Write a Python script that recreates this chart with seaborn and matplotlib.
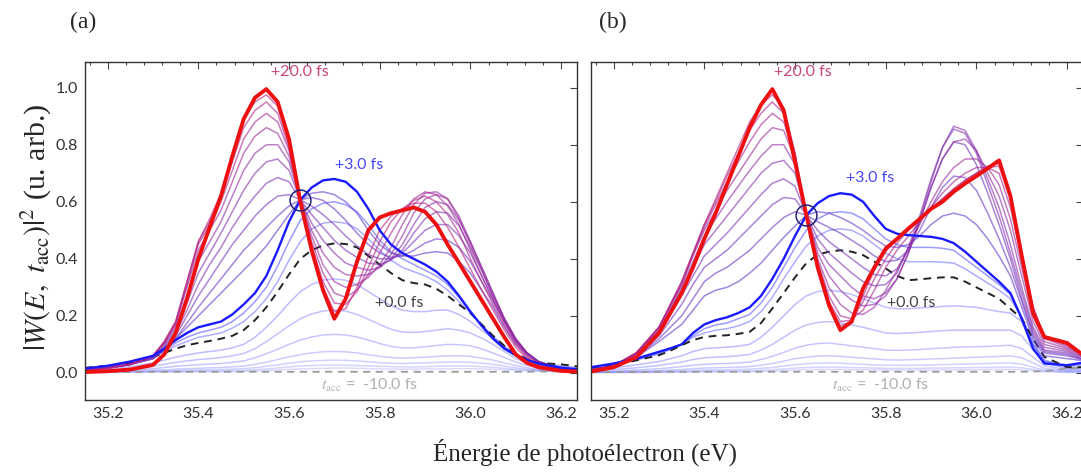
import matplotlib
matplotlib.use('Agg')
import matplotlib.pyplot as plt
import seaborn as sns
import numpy as np
from matplotlib.ticker import MultipleLocator, FormatStrFormatter

sns.set_theme(style='white')
plt.rcParams['font.family'] = ['Liberation Serif', 'DejaVu Serif']
plt.rcParams['mathtext.fontset'] = 'stix'

# photoelectron energy (eV), same sampling for both panels
energy = [35.15, 35.20, 35.25, 35.30, 35.325, 35.35, 35.375, 35.40, 35.425, 35.45, 35.475,
          35.50, 35.525, 35.55, 35.575, 35.60, 35.625, 35.65, 35.675, 35.70, 35.725,
          35.75, 35.775, 35.80, 35.825, 35.85, 35.875, 35.90, 35.925, 35.95, 35.975,
          36.00, 36.025, 36.05, 36.075, 36.10, 36.125, 36.15, 36.20, 36.25]

# ---------------- panel (a) ----------------
red_a = [0.003, 0.006, 0.012, 0.028, 0.065, 0.14, 0.26, 0.40, 0.51, 0.62, 0.76,
         0.89, 0.965, 0.995, 0.95, 0.82, 0.60, 0.43, 0.29, 0.19, 0.26,
         0.39, 0.50, 0.545, 0.56, 0.57, 0.58, 0.565, 0.52, 0.45, 0.385,
         0.32, 0.255, 0.19, 0.125, 0.065, 0.035, 0.02, 0.007, 0.004]
blue3_a = [0.015, 0.025, 0.04, 0.06, 0.085, 0.115, 0.14, 0.16, 0.17, 0.18, 0.205,
           0.24, 0.28, 0.34, 0.43, 0.53, 0.607, 0.65, 0.675, 0.68, 0.67,
           0.635, 0.575, 0.50, 0.45, 0.42, 0.40, 0.38, 0.355, 0.32, 0.27,
           0.215, 0.165, 0.12, 0.085, 0.062, 0.045, 0.033, 0.018, 0.01]
blue2_a = [0.016, 0.025, 0.037, 0.058, 0.08, 0.105, 0.125, 0.14, 0.15, 0.16, 0.18,
           0.21, 0.25, 0.30, 0.375, 0.46, 0.535, 0.575, 0.595, 0.60, 0.59,
           0.565, 0.52, 0.465, 0.425, 0.40, 0.38, 0.36, 0.34, 0.31, 0.265,
           0.215, 0.165, 0.125, 0.09, 0.065, 0.047, 0.034, 0.02, 0.012]
blue1_a = [0.017, 0.025, 0.036, 0.056, 0.075, 0.095, 0.11, 0.125, 0.132, 0.14, 0.157,
           0.18, 0.215, 0.26, 0.32, 0.395, 0.46, 0.505, 0.525, 0.53, 0.525,
           0.505, 0.47, 0.43, 0.395, 0.37, 0.355, 0.34, 0.32, 0.29, 0.25,
           0.21, 0.168, 0.128, 0.093, 0.066, 0.048, 0.035, 0.025, 0.015]
black0_a = [0.018, 0.025, 0.035, 0.055, 0.07, 0.085, 0.097, 0.105, 0.112, 0.12, 0.13,
            0.15, 0.185, 0.23, 0.285, 0.345, 0.40, 0.43, 0.447, 0.454, 0.452,
            0.44, 0.41, 0.38, 0.35, 0.325, 0.315, 0.31, 0.295, 0.27, 0.24,
            0.21, 0.17, 0.13, 0.095, 0.068, 0.048, 0.035, 0.03, 0.02]
gray10_a = [0.003, 0.003, 0.003, 0.004, 0.004, 0.004, 0.004, 0.004, 0.004, 0.004, 0.004,
            0.004, 0.004, 0.004, 0.004, 0.004, 0.004, 0.004, 0.004, 0.004, 0.004,
            0.004, 0.004, 0.004, 0.004, 0.004, 0.004, 0.004, 0.004, 0.004, 0.004,
            0.004, 0.004, 0.004, 0.004, 0.004, 0.004, 0.005, 0.006, 0.007]

# t_acc between -10 and 0 fs (largest first)
light_a = [
    [0.012, 0.016, 0.022, 0.035, 0.045, 0.055, 0.063, 0.07, 0.075, 0.08, 0.088,
     0.10, 0.125, 0.16, 0.20, 0.245, 0.285, 0.31, 0.325, 0.33, 0.325,
     0.31, 0.285, 0.26, 0.235, 0.22, 0.215, 0.215, 0.22, 0.22, 0.205,
     0.18, 0.15, 0.12, 0.09, 0.06, 0.042, 0.03, 0.02, 0.015],
    [0.008, 0.011, 0.015, 0.024, 0.03, 0.037, 0.042, 0.047, 0.05, 0.054, 0.06,
     0.068, 0.085, 0.11, 0.137, 0.165, 0.19, 0.207, 0.217, 0.22, 0.217,
     0.205, 0.188, 0.17, 0.153, 0.143, 0.142, 0.145, 0.15, 0.155, 0.15,
     0.14, 0.122, 0.10, 0.075, 0.05, 0.035, 0.025, 0.015, 0.012],
    [0.006, 0.008, 0.01, 0.015, 0.019, 0.023, 0.026, 0.029, 0.031, 0.033, 0.037,
     0.042, 0.053, 0.067, 0.083, 0.10, 0.115, 0.126, 0.133, 0.135, 0.133,
     0.126, 0.115, 0.103, 0.093, 0.088, 0.088, 0.092, 0.096, 0.10, 0.099,
     0.095, 0.084, 0.07, 0.054, 0.038, 0.026, 0.018, 0.011, 0.009],
    [0.004, 0.005, 0.007, 0.009, 0.011, 0.013, 0.015, 0.016, 0.018, 0.019, 0.021,
     0.024, 0.03, 0.038, 0.047, 0.056, 0.064, 0.07, 0.074, 0.075, 0.074,
     0.07, 0.064, 0.058, 0.054, 0.052, 0.053, 0.055, 0.058, 0.06, 0.06,
     0.058, 0.052, 0.045, 0.035, 0.026, 0.018, 0.013, 0.008, 0.007],
    [0.003, 0.004, 0.005, 0.006, 0.007, 0.008, 0.009, 0.01, 0.011, 0.012, 0.013,
     0.015, 0.018, 0.023, 0.028, 0.034, 0.039, 0.042, 0.044, 0.045, 0.044,
     0.042, 0.039, 0.036, 0.034, 0.033, 0.034, 0.035, 0.037, 0.038, 0.038,
     0.037, 0.034, 0.03, 0.024, 0.018, 0.013, 0.01, 0.006, 0.005],
    [0.002, 0.003, 0.003, 0.004, 0.0045, 0.005, 0.0055, 0.006, 0.0065, 0.007, 0.008,
     0.009, 0.011, 0.014, 0.017, 0.021, 0.024, 0.026, 0.027, 0.028, 0.027,
     0.026, 0.024, 0.023, 0.022, 0.021, 0.021, 0.022, 0.023, 0.024, 0.024,
     0.024, 0.022, 0.02, 0.016, 0.013, 0.01, 0.008, 0.005, 0.004],
    [0.002, 0.002, 0.002, 0.003, 0.003, 0.003, 0.0035, 0.004, 0.004, 0.004, 0.0045,
     0.005, 0.0065, 0.008, 0.01, 0.012, 0.014, 0.015, 0.016, 0.017, 0.017,
     0.016, 0.015, 0.014, 0.013, 0.013, 0.013, 0.014, 0.014, 0.015, 0.015,
     0.015, 0.014, 0.013, 0.011, 0.009, 0.007, 0.006, 0.004, 0.003],
]

# t_acc between +3 and +20 fs (earliest first)
purple_a = [
    [0.012, 0.02, 0.03, 0.05, 0.08, 0.12, 0.16, 0.20, 0.24, 0.28, 0.32,
     0.36, 0.40, 0.445, 0.50, 0.555, 0.607, 0.63, 0.635, 0.625, 0.60,
     0.56, 0.50, 0.45, 0.42, 0.41, 0.41, 0.42, 0.425, 0.42, 0.39,
     0.35, 0.29, 0.23, 0.16, 0.10, 0.065, 0.04, 0.013, 0.006],
    [0.012, 0.02, 0.03, 0.05, 0.08, 0.12, 0.175, 0.23, 0.28, 0.33, 0.38,
     0.43, 0.47, 0.51, 0.55, 0.585, 0.607, 0.615, 0.605, 0.575, 0.535,
     0.49, 0.45, 0.42, 0.405, 0.41, 0.43, 0.455, 0.47, 0.465, 0.44,
     0.39, 0.32, 0.25, 0.18, 0.11, 0.07, 0.04, 0.013, 0.006],
    [0.011, 0.019, 0.03, 0.05, 0.085, 0.13, 0.20, 0.27, 0.33, 0.39, 0.45,
     0.50, 0.55, 0.59, 0.62, 0.625, 0.607, 0.585, 0.555, 0.52, 0.48,
     0.445, 0.415, 0.40, 0.40, 0.42, 0.46, 0.50, 0.52, 0.52, 0.48,
     0.42, 0.34, 0.26, 0.18, 0.11, 0.07, 0.04, 0.013, 0.006],
    [0.011, 0.019, 0.03, 0.055, 0.09, 0.14, 0.22, 0.31, 0.38, 0.44, 0.51,
     0.57, 0.62, 0.665, 0.685, 0.67, 0.607, 0.555, 0.51, 0.465, 0.43,
     0.405, 0.385, 0.38, 0.395, 0.43, 0.49, 0.54, 0.565, 0.56, 0.515,
     0.44, 0.36, 0.27, 0.19, 0.12, 0.07, 0.04, 0.013, 0.006],
    [0.01, 0.018, 0.03, 0.055, 0.095, 0.15, 0.245, 0.35, 0.42, 0.49, 0.565,
     0.64, 0.70, 0.74, 0.75, 0.71, 0.607, 0.525, 0.465, 0.42, 0.385,
     0.37, 0.36, 0.37, 0.40, 0.45, 0.52, 0.58, 0.60, 0.59, 0.535,
     0.46, 0.37, 0.28, 0.19, 0.12, 0.07, 0.04, 0.013, 0.006],
    [0.01, 0.018, 0.03, 0.06, 0.10, 0.16, 0.27, 0.39, 0.46, 0.53, 0.62,
     0.71, 0.77, 0.80, 0.80, 0.74, 0.607, 0.50, 0.42, 0.37, 0.345,
     0.34, 0.345, 0.37, 0.415, 0.48, 0.56, 0.61, 0.625, 0.61, 0.55,
     0.46, 0.37, 0.28, 0.19, 0.12, 0.07, 0.04, 0.013, 0.006],
    [0.01, 0.017, 0.03, 0.06, 0.105, 0.17, 0.30, 0.43, 0.50, 0.57, 0.67,
     0.77, 0.83, 0.86, 0.84, 0.76, 0.607, 0.48, 0.38, 0.32, 0.30,
     0.31, 0.335, 0.38, 0.44, 0.52, 0.59, 0.63, 0.635, 0.61, 0.54,
     0.45, 0.36, 0.27, 0.185, 0.115, 0.065, 0.035, 0.012, 0.006],
    [0.009, 0.017, 0.03, 0.06, 0.105, 0.17, 0.31, 0.45, 0.52, 0.60, 0.71,
     0.82, 0.88, 0.91, 0.88, 0.78, 0.607, 0.46, 0.35, 0.28, 0.265,
     0.29, 0.345, 0.42, 0.49, 0.555, 0.61, 0.635, 0.625, 0.585, 0.52,
     0.43, 0.34, 0.255, 0.175, 0.11, 0.06, 0.035, 0.012, 0.006],
    [0.009, 0.016, 0.03, 0.06, 0.11, 0.18, 0.32, 0.46, 0.53, 0.62, 0.74,
     0.86, 0.92, 0.95, 0.91, 0.79, 0.607, 0.445, 0.32, 0.245, 0.24,
     0.285, 0.37, 0.46, 0.53, 0.575, 0.605, 0.62, 0.60, 0.555, 0.49,
     0.40, 0.32, 0.24, 0.165, 0.10, 0.055, 0.03, 0.01, 0.005],
    [0.008, 0.015, 0.03, 0.06, 0.11, 0.18, 0.32, 0.46, 0.54, 0.63, 0.76,
     0.89, 0.95, 0.975, 0.935, 0.80, 0.607, 0.435, 0.30, 0.215, 0.225,
     0.30, 0.41, 0.50, 0.55, 0.575, 0.595, 0.595, 0.565, 0.51, 0.44,
     0.365, 0.29, 0.22, 0.15, 0.09, 0.05, 0.028, 0.01, 0.005],
]

# ---------------- panel (b) ----------------
red_b = [0.005, 0.02, 0.055, 0.14, 0.21, 0.28, 0.37, 0.47, 0.56, 0.66, 0.76,
         0.86, 0.94, 0.995, 0.92, 0.74, 0.553, 0.37, 0.237, 0.15, 0.18,
         0.296, 0.37, 0.436, 0.47, 0.506, 0.54, 0.575, 0.60, 0.635, 0.664,
         0.69, 0.717, 0.745, 0.62, 0.41, 0.21, 0.126, 0.105, 0.045]
blue3_b = [0.02, 0.033, 0.05, 0.074, 0.086, 0.10, 0.14, 0.17, 0.185, 0.195, 0.21,
           0.23, 0.27, 0.33, 0.40, 0.48, 0.553, 0.595, 0.62, 0.63, 0.625,
           0.60, 0.55, 0.505, 0.488, 0.483, 0.48, 0.477, 0.47, 0.455, 0.425,
           0.39, 0.355, 0.32, 0.28, 0.19, 0.085, 0.033, 0.027, 0.04]
blue2_b = [0.019, 0.03, 0.047, 0.07, 0.085, 0.10, 0.13, 0.155, 0.168, 0.175, 0.19,
           0.205, 0.245, 0.30, 0.37, 0.44, 0.50, 0.54, 0.56, 0.565, 0.56,
           0.54, 0.505, 0.47, 0.45, 0.44, 0.44, 0.44, 0.437, 0.43, 0.40,
           0.37, 0.34, 0.31, 0.275, 0.195, 0.10, 0.04, 0.025, 0.035]
blue1_b = [0.018, 0.028, 0.045, 0.066, 0.082, 0.10, 0.125, 0.14, 0.15, 0.155, 0.165,
           0.18, 0.215, 0.265, 0.33, 0.39, 0.445, 0.48, 0.50, 0.505, 0.50,
           0.48, 0.45, 0.42, 0.40, 0.39, 0.39, 0.39, 0.388, 0.385, 0.365,
           0.34, 0.315, 0.29, 0.26, 0.195, 0.11, 0.045, 0.022, 0.03]
black0_b = [0.018, 0.027, 0.044, 0.062, 0.078, 0.097, 0.115, 0.126, 0.13, 0.132, 0.137,
            0.144, 0.175, 0.226, 0.28, 0.335, 0.385, 0.415, 0.425, 0.43, 0.425,
            0.413, 0.39, 0.366, 0.34, 0.325, 0.328, 0.332, 0.335, 0.335, 0.32,
            0.30, 0.28, 0.26, 0.225, 0.19, 0.12, 0.056, 0.02, 0.02]
gray10_b = [0.003, 0.003, 0.003, 0.004, 0.004, 0.004, 0.004, 0.004, 0.004, 0.004, 0.004,
            0.004, 0.004, 0.004, 0.004, 0.004, 0.004, 0.004, 0.004, 0.004, 0.004,
            0.004, 0.004, 0.004, 0.004, 0.004, 0.004, 0.004, 0.004, 0.004, 0.004,
            0.004, 0.004, 0.004, 0.004, 0.004, 0.005, 0.006, 0.015, 0.02]

light_b = [
    [0.012, 0.018, 0.028, 0.04, 0.05, 0.06, 0.075, 0.085, 0.088, 0.09, 0.094,
     0.10, 0.125, 0.16, 0.20, 0.24, 0.27, 0.285, 0.29, 0.285, 0.275,
     0.26, 0.245, 0.23, 0.225, 0.225, 0.228, 0.23, 0.233, 0.235, 0.233,
     0.23, 0.222, 0.215, 0.21, 0.18, 0.10, 0.04, 0.018, 0.02],
    [0.008, 0.012, 0.018, 0.026, 0.032, 0.038, 0.047, 0.053, 0.055, 0.057, 0.06,
     0.065, 0.08, 0.10, 0.125, 0.15, 0.168, 0.177, 0.18, 0.175, 0.168,
     0.16, 0.15, 0.14, 0.138, 0.14, 0.142, 0.145, 0.148, 0.15, 0.15,
     0.15, 0.15, 0.15, 0.15, 0.13, 0.08, 0.035, 0.015, 0.015],
    [0.005, 0.007, 0.01, 0.015, 0.018, 0.022, 0.027, 0.03, 0.032, 0.033, 0.035,
     0.038, 0.047, 0.058, 0.072, 0.087, 0.097, 0.103, 0.105, 0.10, 0.095,
     0.09, 0.085, 0.08, 0.079, 0.08, 0.082, 0.085, 0.087, 0.09, 0.091,
     0.092, 0.093, 0.095, 0.097, 0.085, 0.055, 0.025, 0.011, 0.011],
    [0.003, 0.004, 0.006, 0.008, 0.01, 0.012, 0.015, 0.017, 0.018, 0.019, 0.02,
     0.022, 0.027, 0.033, 0.041, 0.05, 0.055, 0.059, 0.06, 0.058, 0.055,
     0.052, 0.049, 0.046, 0.045, 0.046, 0.047, 0.049, 0.05, 0.052, 0.053,
     0.055, 0.056, 0.058, 0.06, 0.053, 0.035, 0.016, 0.008, 0.008],
    [0.002, 0.003, 0.004, 0.005, 0.006, 0.007, 0.009, 0.01, 0.0105, 0.011, 0.012,
     0.013, 0.016, 0.019, 0.024, 0.029, 0.032, 0.034, 0.035, 0.034, 0.032,
     0.03, 0.028, 0.027, 0.027, 0.027, 0.027, 0.028, 0.029, 0.03, 0.031,
     0.032, 0.033, 0.034, 0.035, 0.031, 0.02, 0.01, 0.005, 0.005],
    [0.001, 0.002, 0.002, 0.003, 0.0035, 0.004, 0.005, 0.006, 0.006, 0.006, 0.0065,
     0.007, 0.009, 0.011, 0.014, 0.017, 0.019, 0.02, 0.02, 0.02, 0.019,
     0.018, 0.017, 0.016, 0.016, 0.016, 0.016, 0.017, 0.017, 0.018, 0.018,
     0.019, 0.019, 0.02, 0.02, 0.018, 0.012, 0.006, 0.003, 0.003],
    [0.001, 0.001, 0.001, 0.002, 0.002, 0.002, 0.0025, 0.003, 0.0035, 0.004, 0.004,
     0.004, 0.005, 0.006, 0.008, 0.01, 0.011, 0.012, 0.012, 0.012, 0.0115,
     0.011, 0.0105, 0.01, 0.01, 0.01, 0.01, 0.01, 0.0105, 0.011, 0.011,
     0.011, 0.0115, 0.012, 0.012, 0.011, 0.007, 0.004, 0.002, 0.002],
]

purple_b = [
    [0.013, 0.023, 0.055, 0.11, 0.14, 0.17, 0.22, 0.27, 0.29, 0.30, 0.32,
     0.35, 0.385, 0.43, 0.475, 0.515, 0.553, 0.565, 0.56, 0.545, 0.525,
     0.50, 0.47, 0.445, 0.44, 0.45, 0.48, 0.52, 0.55, 0.56, 0.55,
     0.52, 0.47, 0.41, 0.34, 0.23, 0.12, 0.06, 0.05, 0.04],
    [0.012, 0.023, 0.055, 0.12, 0.16, 0.20, 0.26, 0.32, 0.35, 0.37, 0.40,
     0.43, 0.47, 0.51, 0.545, 0.565, 0.553, 0.53, 0.51, 0.49, 0.465,
     0.44, 0.41, 0.39, 0.395, 0.43, 0.50, 0.58, 0.65, 0.69, 0.685,
     0.64, 0.56, 0.47, 0.37, 0.25, 0.13, 0.07, 0.06, 0.04],
    [0.012, 0.024, 0.06, 0.13, 0.185, 0.24, 0.31, 0.37, 0.40, 0.43, 0.47,
     0.51, 0.55, 0.59, 0.615, 0.61, 0.553, 0.50, 0.46, 0.43, 0.40,
     0.37, 0.345, 0.34, 0.365, 0.43, 0.53, 0.65, 0.75, 0.81, 0.80,
     0.73, 0.63, 0.52, 0.40, 0.26, 0.14, 0.075, 0.065, 0.04],
    [0.011, 0.024, 0.06, 0.14, 0.205, 0.27, 0.34, 0.41, 0.45, 0.49, 0.535,
     0.58, 0.625, 0.665, 0.68, 0.655, 0.553, 0.47, 0.42, 0.385, 0.35,
     0.32, 0.305, 0.31, 0.35, 0.44, 0.55, 0.68, 0.79, 0.855, 0.84,
     0.77, 0.66, 0.55, 0.42, 0.28, 0.15, 0.08, 0.07, 0.04],
    [0.011, 0.025, 0.065, 0.15, 0.22, 0.29, 0.37, 0.45, 0.50, 0.55, 0.60,
     0.65, 0.70, 0.735, 0.745, 0.70, 0.553, 0.44, 0.38, 0.34, 0.30,
     0.27, 0.26, 0.28, 0.33, 0.42, 0.54, 0.67, 0.79, 0.865, 0.85,
     0.78, 0.68, 0.58, 0.45, 0.30, 0.16, 0.09, 0.075, 0.045],
    [0.01, 0.025, 0.065, 0.15, 0.225, 0.30, 0.39, 0.48, 0.54, 0.60, 0.655,
     0.71, 0.76, 0.80, 0.80, 0.73, 0.553, 0.42, 0.34, 0.29, 0.255,
     0.235, 0.24, 0.27, 0.33, 0.42, 0.53, 0.65, 0.75, 0.81, 0.82,
     0.78, 0.70, 0.62, 0.50, 0.34, 0.18, 0.10, 0.08, 0.045],
    [0.01, 0.025, 0.07, 0.16, 0.235, 0.31, 0.41, 0.50, 0.57, 0.64, 0.70,
     0.76, 0.82, 0.86, 0.85, 0.75, 0.553, 0.40, 0.30, 0.24, 0.21,
     0.205, 0.23, 0.29, 0.36, 0.44, 0.52, 0.60, 0.67, 0.72, 0.75,
     0.75, 0.72, 0.66, 0.54, 0.37, 0.20, 0.11, 0.085, 0.05],
    [0.009, 0.025, 0.07, 0.16, 0.235, 0.31, 0.415, 0.51, 0.59, 0.67, 0.74,
     0.81, 0.87, 0.91, 0.88, 0.76, 0.553, 0.39, 0.27, 0.20, 0.19,
     0.22, 0.29, 0.37, 0.43, 0.48, 0.53, 0.58, 0.63, 0.67, 0.70,
     0.72, 0.72, 0.70, 0.58, 0.40, 0.22, 0.12, 0.09, 0.05],
    [0.009, 0.025, 0.07, 0.16, 0.24, 0.32, 0.42, 0.52, 0.60, 0.69, 0.77,
     0.85, 0.91, 0.95, 0.91, 0.77, 0.553, 0.38, 0.25, 0.18, 0.185,
     0.25, 0.33, 0.40, 0.455, 0.50, 0.535, 0.575, 0.61, 0.645, 0.675,
     0.70, 0.72, 0.725, 0.61, 0.42, 0.23, 0.125, 0.095, 0.05],
    [0.008, 0.025, 0.07, 0.16, 0.24, 0.32, 0.42, 0.52, 0.61, 0.70, 0.79,
     0.88, 0.94, 0.975, 0.93, 0.77, 0.553, 0.37, 0.24, 0.165, 0.18,
     0.27, 0.36, 0.425, 0.47, 0.505, 0.54, 0.575, 0.61, 0.645, 0.675,
     0.70, 0.725, 0.735, 0.62, 0.42, 0.23, 0.13, 0.10, 0.05],
]

x_ticks = [35.2, 35.4, 35.6, 35.8, 36.0, 36.2]
y_ticks = [0.0, 0.2, 0.4, 0.6, 0.8, 1.0]
crossing = {'a': (35.625, 0.607), 'b': (35.625, 0.553)}

sans = ['Liberation Sans Narrow', 'Lato', 'DejaVu Sans']


def draw(ax, lights, gray10, black0, blue1, blue2, purples, blue3, red, key, pos):
    for i, ys in enumerate(lights):
        sns.lineplot(x=energy, y=ys, ax=ax, color='#5a5aff', lw=1.1,
                     alpha=0.40 - 0.03 * i)
    sns.lineplot(x=energy, y=gray10, ax=ax, color='#9a9a9a', lw=1.3,
                 linestyle=(0, (4, 3)))
    sns.lineplot(x=energy, y=blue1, ax=ax, color='#4a4aff', lw=1.1, alpha=0.45)
    sns.lineplot(x=energy, y=blue2, ax=ax, color='#4a4aff', lw=1.1, alpha=0.55)
    sns.lineplot(x=energy, y=black0, ax=ax, color='#222222', lw=1.4,
                 linestyle=(0, (4, 3)))
    n = len(purples)
    c0 = np.array([0.38, 0.22, 0.80])
    c1 = np.array([0.72, 0.12, 0.50])
    for i, ys in enumerate(purples):
        f = i / (n - 1)
        sns.lineplot(x=energy, y=ys, ax=ax, color=tuple(c0 * (1 - f) + c1 * f),
                     lw=1.1, alpha=0.6)
    sns.lineplot(x=energy, y=blue3, ax=ax, color='#1a1aff', lw=1.7)
    sns.lineplot(x=energy, y=red, ax=ax, color='#ee1010', lw=2.8)

    cx, cy = crossing[key]
    ax.plot(cx, cy, marker='o', ms=15, mfc='none', mec='#23237a', mew=1.1)

    tf = dict(family=sans, fontsize=11.5, ha='center', va='center')
    ax.text(pos[0], 1.055, '+20.0 fs', color='#c9457c', **tf)
    ax.text(pos[1], pos[2], '+3.0 fs', color='#4646f5', **tf)
    ax.text(pos[3], 0.246, '+0.0 fs', color='#444444', **tf)
    ax.text(pos[4], -0.045, r'$t_{\mathrm{acc}}$ =  -10.0 fs', color='#b0b0b0', **tf)

    ax.set_xlim(35.15, 36.235)
    ax.set_ylim(-0.095, 1.09)
    ax.set_xticks(x_ticks)
    ax.xaxis.set_minor_locator(MultipleLocator(0.04))
    ax.xaxis.set_major_formatter(FormatStrFormatter('%.1f'))
    ax.set_yticks(y_ticks)
    ax.yaxis.set_major_formatter(FormatStrFormatter('%.1f'))
    ax.tick_params(which='both', direction='in', top=True, right=True,
                   color='#444444', width=0.8, labelsize=11.5,
                   labelcolor='#333333', labelfontfamily=sans, pad=5)
    ax.tick_params(which='major', length=5)
    ax.tick_params(which='minor', length=2.5)
    ax.set_xlabel('')
    ax.set_ylabel('')
    for s in ax.spines.values():
        s.set_color('#333333')
        s.set_linewidth(1.0)


fig = plt.figure(figsize=(10.81, 4.74), dpi=100)
ax_a = fig.add_axes([0.0786, 0.1561, 0.4551, 0.7131])
ax_b = fig.add_axes([0.5467, 0.1561, 0.4551, 0.7131])

draw(ax_a, light_a, gray10_a, black0_a, blue1_a, blue2_a, purple_a,
     blue3_a, red_a, 'a', (35.625, 35.755, 0.73, 35.843, 35.777))
draw(ax_b, light_b, gray10_b, black0_b, blue1_b, blue2_b, purple_b,
     blue3_b, red_b, 'b', (35.618, 35.766, 0.684, 35.857, 35.789))
ax_b.tick_params(labelleft=False)

fig.text(0.077, 0.953, '(a)', fontsize=17, ha='center', va='center')
fig.text(0.567, 0.953, '(b)', fontsize=17, ha='center', va='center')
fig.text(0.5415, 0.046, 'Énergie de photoélectron (eV)', fontsize=18,
         ha='center', va='center')
fig.text(0.034, 0.52, r'$|W(E,\ t_{\mathrm{acc}})|^2$ (u. arb.)', fontsize=21.5,
         rotation=90, ha='center', va='center')

fig.savefig('out.png', dpi=100)
